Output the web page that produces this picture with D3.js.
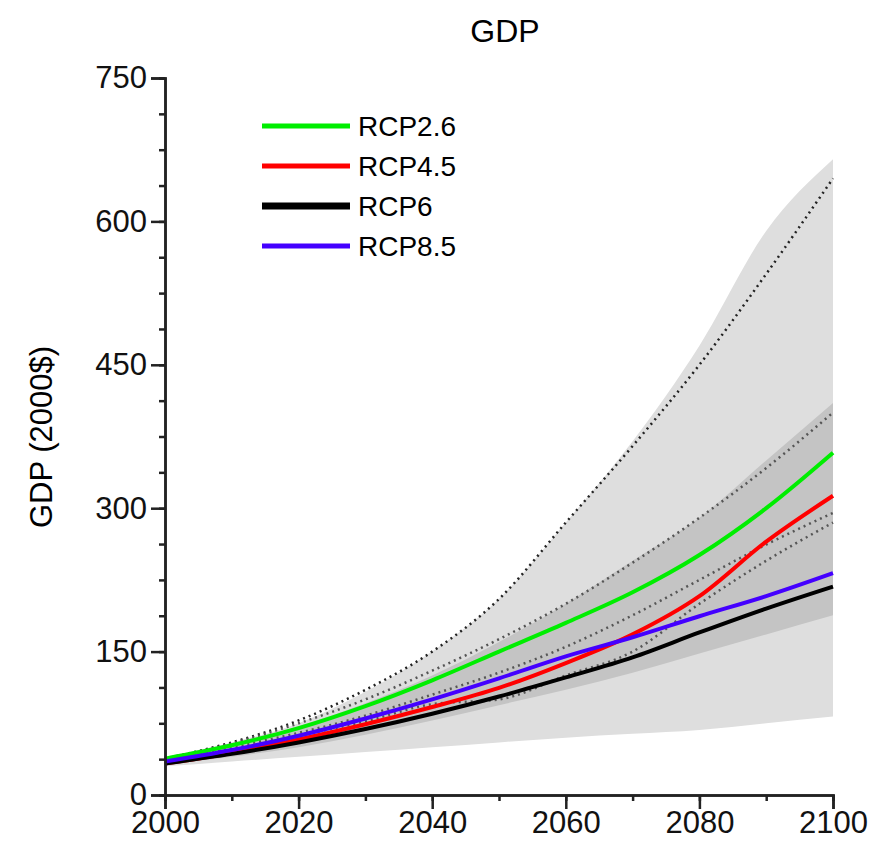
<!DOCTYPE html>
<html><head><meta charset="utf-8">
<script src="https://cdn.jsdelivr.net/npm/d3@7"></script>
<style>body{margin:0;background:#fff}text{font-family:"Liberation Sans",Arial,sans-serif}</style>
</head><body><svg width="888" height="854"></svg>
<script>
var years = [2000,2010,2020,2030,2040,2050,2060,2070,2080,2090,2100];
var rcp26 = [38,52,70,93,120,150,180,212,251,300,358];
var rcp45 = [33,44,58,74,92,112,138,168,208,265,313];
var rcp6  = [33,43,55,69,85,103,123,144,170,195,218];
var rcp85 = [35,47,62,80,100,122,145,165,187,208,232];
var bandLightHi = [40,55,75,108,150,205,285,370,470,590,665];
var bandLightLo = [30,35,40,45,50,55,60,64,68,75,82];
var bandDarkHi = [38,54,72,96,125,160,200,245,290,350,410];
var bandDarkLo = [32,40,50,63,78,94,110,128,148,168,188];
var dotted = [
  [38,55,78,110,150,205,285,365,450,545,645],
  [37,54,75,100,130,163,200,243,290,342,400],
  [36,50,65,83,105,128,155,188,225,262,295],
  [35,48,62,77,95,100,125,150,200,245,285]
];
var series = [
  {name:"RCP2.6", vals:rcp26, color:"#00ee00"},
  {name:"RCP4.5", vals:rcp45, color:"#ff0000"},
  {name:"RCP6", vals:rcp6, color:"#000000"},
  {name:"RCP8.5", vals:rcp85, color:"#4400ff"}
];
var yTicks = [0,150,300,450,600,750];
var xTicks = [2000,2020,2040,2060,2080,2100];

var svg = d3.select('svg');
var x = d3.scaleLinear().domain([2000,2100]).range([165,833]);
var y = d3.scaleLinear().domain([0,750]).range([795,78]);

function band(hi, lo, fill) {
  var a = d3.area().x(function(d,i){return x(years[i]);})
    .y0(function(d,i){return y(lo[i]);}).y1(function(d){return y(d);}).curve(d3.curveMonotoneX);
  svg.append('path').attr('d', a(hi)).attr('fill', fill);
}
band(bandLightHi, bandLightLo, '#dedede');
band(bandDarkHi, bandDarkLo, '#c4c4c4');

var line = d3.line().x(function(d,i){return x(years[i]);}).y(function(d){return y(d);}).curve(d3.curveMonotoneX);
dotted.forEach(function(d, i){
  svg.append('path').attr('d', line(d)).attr('fill','none')
    .attr('stroke', i == 0 ? '#222' : '#555').attr('stroke-width', 2.5).attr('stroke-dasharray','2,4');
});
series.forEach(function(s){
  svg.append('path').attr('d', line(s.vals)).attr('fill','none')
    .attr('stroke', s.color).attr('stroke-width', 4);
});

// axes
svg.append('g').attr('transform','translate(165,0)')
  .call(d3.axisLeft(y).tickValues(yTicks).tickSize(14).tickPadding(4));
svg.append('g').attr('transform','translate(165,0)')
  .call(d3.axisLeft(y).tickValues(d3.range(0,751,37.5)).tickSize(6).tickFormat(''));
svg.append('g').attr('transform','translate(0,795)')
  .call(d3.axisBottom(x).tickValues(xTicks).tickSize(14).tickPadding(2).tickFormat(d3.format('d')));
svg.append('g').attr('transform','translate(0,795)')
  .call(d3.axisBottom(x).tickValues(d3.range(2000,2101,10)).tickSize(6).tickFormat(''));
svg.selectAll('.domain').attr('stroke','#222').attr('stroke-width',2.5).attr('d', function(){
  return d3.select(this).attr('d').replace(/M-?\d+(\.\d+)?,/, function(m){return m;});
});
svg.selectAll('.tick line').attr('stroke','#222').attr('stroke-width',2.5);
svg.selectAll('.tick text').attr('font-size',31).attr('fill','#111')
  .style('font-family','"Liberation Sans",Arial,sans-serif');

svg.append('text').attr('x',505).attr('y',42).attr('text-anchor','middle')
  .attr('font-size',32).text('GDP');
svg.append('text').attr('transform','translate(52,437) rotate(-90)').attr('text-anchor','middle')
  .attr('font-size',31).text('GDP (2000$)');

var leg = svg.append('g');
series.forEach(function(s, i){
  var ly = 126 + i*40;
  leg.append('line').attr('x1',262).attr('x2',350).attr('y1',ly).attr('y2',ly)
    .attr('stroke', s.color).attr('stroke-width', s.name == 'RCP6' ? 7 : 5);
  leg.append('text').attr('x',358).attr('y',ly+10).attr('font-size',28).text(s.name);
});
</script></body></html>
